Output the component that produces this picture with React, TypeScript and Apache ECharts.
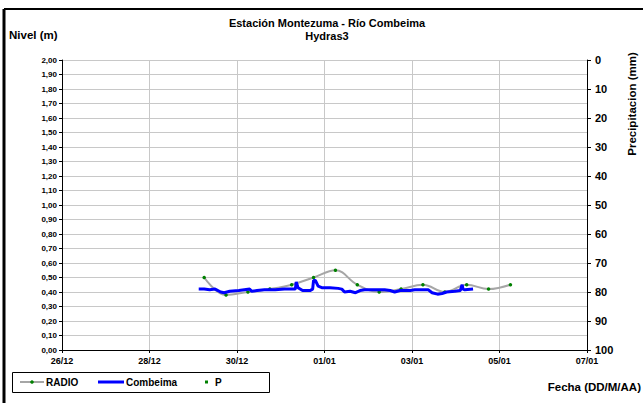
import React, { useEffect, useRef } from "react";
import * as echarts from "echarts";

const FONT = "'Liberation Sans', Arial, sans-serif";

const xTickLabels = ["26/12", "28/12", "30/12", "01/01", "03/01", "05/01", "07/01"];

const radioTimes = [
  "29/12 06:00", "29/12 18:00", "30/12 06:00", "30/12 18:00", "31/12 06:00",
  "31/12 18:00", "01/01 06:00", "01/01 18:00", "02/01 06:00", "02/01 18:00",
  "03/01 06:00", "03/01 18:00", "04/01 06:00", "04/01 18:00", "05/01 06:00",
];
const radioValues = [0.5, 0.38, 0.4, 0.42, 0.45, 0.5, 0.55, 0.45, 0.4, 0.42, 0.45, 0.4, 0.45, 0.42, 0.45];

const combeimaTimes = [
  "29/12 03:00", "29/12 06:00", "29/12 09:00", "29/12 12:00", "29/12 15:00",
  "29/12 17:00", "29/12 20:00", "30/12 01:00", "30/12 04:00", "30/12 07:00",
  "30/12 08:00", "30/12 11:00", "30/12 15:00", "30/12 21:00", "31/12 02:00",
  "31/12 05:00", "31/12 08:00", "31/12 08:30", "31/12 09:30", "31/12 12:00",
  "31/12 16:00", "31/12 17:30", "31/12 18:00", "31/12 19:00", "31/12 20:30",
  "31/12 22:30", "01/01 03:00", "01/01 07:30", "01/01 09:30", "01/01 11:00",
  "01/01 14:00", "01/01 17:00", "01/01 19:30", "01/01 22:00", "02/01 03:30",
  "02/01 09:00", "02/01 12:00", "02/01 14:30", "02/01 17:30", "02/01 23:00",
  "03/01 01:30", "03/01 09:00", "03/01 11:00", "03/01 14:00", "03/01 16:30",
  "03/01 19:00", "03/01 23:30", "04/01 02:30", "04/01 03:30", "04/01 04:00",
  "04/01 05:00", "04/01 09:30",
];
const combeimaValues = [
  0.42, 0.42, 0.415, 0.42, 0.4,
  0.395, 0.405, 0.41, 0.415, 0.42,
  0.405, 0.41, 0.415, 0.415, 0.42,
  0.42, 0.42, 0.47, 0.43, 0.41,
  0.41, 0.42, 0.48, 0.48, 0.44,
  0.43, 0.43, 0.425, 0.42, 0.4,
  0.405, 0.395, 0.41, 0.415, 0.415,
  0.415, 0.41, 0.4, 0.41, 0.41,
  0.415, 0.415, 0.395, 0.385, 0.39,
  0.4, 0.405, 0.41, 0.45, 0.42,
  0.415, 0.42,
];

const pTimes: string[] = [];
const pValues: number[] = [];

const legendNames = ["RADIO", "Combeima", "P"];

// day offset from 26/12 00:00
function toOffset(s: string): number {
  const [d, t] = s.split(" ");
  const [dd, mm] = d.split("/").map(Number);
  const [hh, mi] = (t || "00:00").split(":").map(Number);
  const day = mm === 12 ? dd - 26 : dd + 5;
  return day + (hh + mi / 60) / 24;
}

export default function App() {
  const ref = useRef<HTMLDivElement>(null);
  useEffect(() => {
    document.body.style.margin = "0";
    if (!ref.current) return;
    const chart = echarts.init(ref.current, null, { renderer: "svg" });
    const radio = radioTimes.map((t, i) => [toOffset(t), radioValues[i]]);
    const comb = combeimaTimes.map((t, i) => [toOffset(t), combeimaValues[i]]);
    const p = pTimes.map((t, i) => [toOffset(t), pValues[i]]);
    const legText = (x: number, text: string) => ({
      type: "text",
      x,
      y: 382,
      style: { text, font: `bold 10px ${FONT}`, fill: "#000", align: "left", verticalAlign: "middle" },
    });
    chart.setOption({
      animation: false,
      backgroundColor: "#fff",
      textStyle: { fontFamily: FONT },
      grid: { left: 62, right: 56, top: 60, bottom: 53 },
      xAxis: {
        type: "value",
        min: 0,
        max: 12,
        interval: 2,
        axisLine: { lineStyle: { color: "#000", width: 1 } },
        axisTick: { show: true, length: 3, lineStyle: { color: "#000" } },
        axisLabel: {
          fontFamily: FONT,
          fontSize: 9,
          fontWeight: "bold",
          color: "#000",
          margin: 6,
          formatter: (v: number) => xTickLabels[Math.round(v / 2)] ?? "",
        },
        splitLine: { show: true, lineStyle: { color: "#c8c8c8", width: 1 } },
      },
      yAxis: [
        {
          type: "value",
          min: 0,
          max: 2,
          interval: 0.1,
          axisLine: { show: true, lineStyle: { color: "#000" } },
          axisTick: { show: true, length: 3, lineStyle: { color: "#000" } },
          axisLabel: {
            fontFamily: FONT,
            fontSize: 8,
            fontWeight: "bold",
            color: "#000",
            margin: 5,
            formatter: (v: number) => v.toFixed(2).replace(".", ","),
          },
          splitLine: { show: true, lineStyle: { color: "#c8c8c8", width: 1 } },
        },
        {
          type: "value",
          min: 0,
          max: 100,
          interval: 10,
          inverse: true,
          position: "right",
          axisLine: { show: true, lineStyle: { color: "#000" } },
          axisTick: { show: true, length: 4, lineStyle: { color: "#000" } },
          axisLabel: {
            fontFamily: FONT,
            fontSize: 11,
            fontWeight: "bold",
            color: "#000",
            margin: 8,
          },
          splitLine: { show: false },
        },
      ],
      series: [
        {
          name: legendNames[0],
          type: "line",
          data: radio,
          smooth: 0.4,
          symbol: "circle",
          symbolSize: 3.5,
          itemStyle: { color: "#008000" },
          lineStyle: { color: "#a6a6a6", width: 2 },
          z: 2,
        },
        {
          name: legendNames[1],
          type: "line",
          data: comb,
          showSymbol: false,
          symbol: "none",
          itemStyle: { color: "#0000ff" },
          lineStyle: { color: "#0000ff", width: 3 },
          z: 3,
        },
        {
          name: legendNames[2],
          type: "scatter",
          yAxisIndex: 1,
          data: p,
          symbol: "rect",
          symbolSize: 3,
          itemStyle: { color: "#008000" },
        },
      ],
      graphic: [
        { type: "line", shape: { x1: 4, y1: 9, x2: 4, y2: 403 }, style: { stroke: "#000", lineWidth: 3 } },
        { type: "line", shape: { x1: 4, y1: 9, x2: 643, y2: 9 }, style: { stroke: "#000", lineWidth: 2 } },
        // legend
        { type: "rect", shape: { x: 12.5, y: 372.5, width: 257, height: 20 }, style: { fill: "#fff", stroke: "#000", lineWidth: 1 } },
        { type: "line", shape: { x1: 20, y1: 382, x2: 44, y2: 382 }, style: { stroke: "#a6a6a6", lineWidth: 2 } },
        { type: "circle", shape: { cx: 32, cy: 382, r: 1.8 }, style: { fill: "#008000" } },
        legText(46, legendNames[0]),
        { type: "line", shape: { x1: 98, y1: 382, x2: 124, y2: 382 }, style: { stroke: "#0000ff", lineWidth: 3 } },
        legText(126, legendNames[1]),
        { type: "rect", shape: { x: 205, y: 380.5, width: 3, height: 3 }, style: { fill: "#008000" } },
        legText(215, legendNames[2]),
        {
          type: "text",
          x: 327,
          y: 23,
          style: { text: "Estación Montezuma - Río Combeima", font: `bold 11px ${FONT}`, fill: "#000", align: "center", verticalAlign: "middle" },
        },
        {
          type: "text",
          x: 327,
          y: 36,
          style: { text: "Hydras3", font: `bold 11px ${FONT}`, fill: "#000", align: "center", verticalAlign: "middle" },
        },
        {
          type: "text",
          x: 9,
          y: 35,
          style: { text: "Nivel (m)", font: `bold 11.5px ${FONT}`, fill: "#000", align: "left", verticalAlign: "middle" },
        },
        {
          type: "text",
          x: 641,
          y: 387,
          style: { text: "Fecha (DD/M/AA)", font: `bold 11.5px ${FONT}`, fill: "#000", align: "right", verticalAlign: "middle" },
        },
        {
          type: "text",
          x: 632,
          y: 104,
          rotation: Math.PI / 2,
          style: { text: "Precipitacion (mm)", font: `bold 11.5px ${FONT}`, fill: "#000", align: "center", verticalAlign: "middle" },
        },
      ],
    });
    return () => chart.dispose();
  }, []);
  return <div ref={ref} style={{ width: 643, height: 403 }} />;
}
